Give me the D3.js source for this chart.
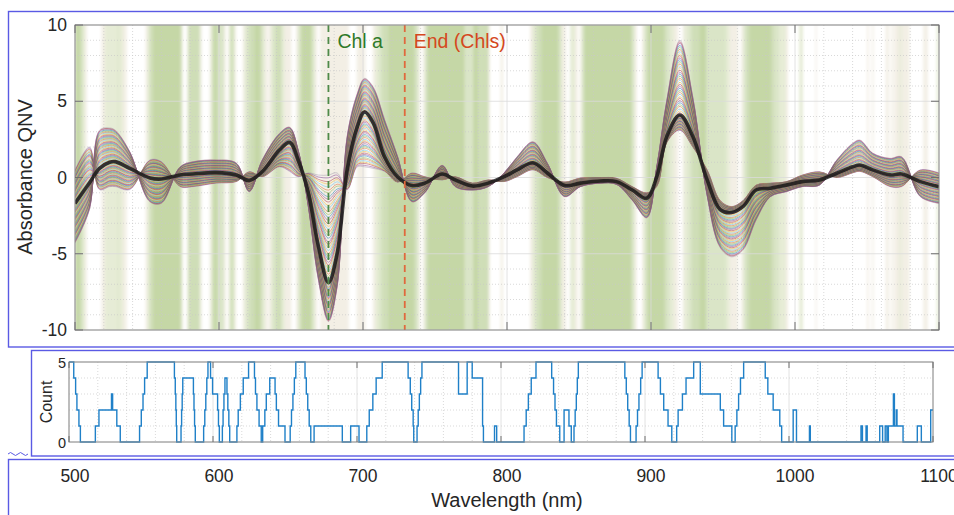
<!DOCTYPE html>
<html>
<head>
<meta charset="utf-8">
<script src="https://cdn.jsdelivr.net/npm/d3@7"></script>
<style>
  body { margin: 0; background: #fff; }
  svg { display: block; font-family: "Liberation Sans", Arial, Helvetica, sans-serif; }
</style>
</head>
<body>
<svg id="chart" width="954" height="515"></svg>
<script>
// ---- spectra (QNV-normalised absorbance) ----
const wavelengths   = [500, 510, 517, 524, 528, 538, 552, 560, 573, 582, 598, 612, 621, 630, 642, 649, 655, 662, 669, 676, 682, 689, 696, 701, 707, 715, 724, 734, 743, 755, 764, 776, 787, 798, 807, 818, 828, 840, 851, 865, 876, 887, 897, 904, 911, 920, 929, 939, 948, 956, 964, 973, 983, 994, 1005, 1017, 1029, 1040, 1045, 1054, 1066, 1074, 1087, 1100];
const meanSpectrum  = [-1.7, -0.36, 0.6, 1.0, 1.04, 0.6, -0.03, -0.1, 0.17, 0.23, 0.32, 0.16, -0.2, 0.38, 1.8, 2.3, 1.15, -1.0, -4.5, -6.9, -5.0, 0.5, 3.3, 4.3, 3.6, 1.36, 0.05, -0.53, -0.37, 0.23, -0.16, -0.56, -0.37, 0.05, 0.5, 0.97, 0.3, -0.53, -0.37, -0.23, -0.27, -0.82, -1.36, 0.05, 2.7, 4.1, 2.7, -0.16, -2.1, -2.3, -1.9, -0.82, -0.7, -0.5, -0.27, -0.16, 0.28, 0.7, 0.82, 0.5, 0.17, 0.23, -0.27, -0.6];
const upperEnvelope = [0.5, 2.0, 3.1, 3.25, 3.1, 1.7, 1.15, 1.04, 0.7, 1.04, 1.15, 0.95, 0.38, 1.15, 2.9, 3.3, 1.8, 0.3, 0.16, 0.16, 0.3, 2.7, 5.5, 6.5, 5.95, 3.8, 1.4, 0.3, 0.05, 0.8, 0.05, -0.37, -0.16, 0.3, 1.36, 2.35, 0.95, -0.3, -0.03, 0.0, -0.05, -0.6, -1.0, 0.7, 5.1, 9.0, 5.3, 0.5, -1.5, -1.9, -1.5, -0.5, -0.37, -0.27, 0.16, 0.38, 1.15, 2.24, 2.46, 1.6, 1.26, 1.36, 0.5, 0.3];
const lowerEnvelope = [-4.3, -2.1, -0.8, -0.6, -0.6, -0.8, -1.6, -1.7, -0.6, -0.6, -0.37, -0.27, -0.93, 0.05, 0.7, 0.4, 0.05, -1.9, -6.7, -9.45, -7.2, -0.8, 0.7, 0.7, 0.6, 0.4, -0.3, -1.6, -1.0, -0.16, -0.6, -0.82, -0.6, -0.27, 0.05, 0.5, 0.0, -1.26, -0.6, -0.37, -0.45, -1.5, -2.65, -0.6, 2.3, 3.1, 2.0, -1.2, -4.6, -5.2, -4.75, -2.8, -1.26, -0.93, -0.6, -0.5, 0.0, 0.3, 0.4, 0.05, -0.6, -0.6, -1.26, -1.7];
// where each sample sits between its weak (0) and strong (1) response
const sampleMix = [0, 0.013, 0.03, 0.041, 0.055, 0.07, 0.082, 0.1, 0.112, 0.125, 0.14, 0.152, 0.17, 0.183, 0.195, 0.21, 0.226, 0.238, 0.25, 0.266, 0.28, 0.293, 0.31, 0.322, 0.336, 0.35, 0.364, 0.378, 0.39, 0.405, 0.418, 0.432, 0.445, 0.46, 0.472, 0.486, 0.5, 0.514, 0.527, 0.54, 0.556, 0.568, 0.582, 0.595, 0.61, 0.622, 0.637, 0.65, 0.664, 0.678, 0.69, 0.705, 0.718, 0.732, 0.746, 0.76, 0.773, 0.787, 0.8, 0.815, 0.828, 0.842, 0.856, 0.87, 0.883, 0.897, 0.91, 0.925, 0.938, 0.952, 0.966, 0.98, 0.99, 1];

// ---- how many of the five selections keep each wavelength (step function) ----
const countStart = [500, 503.3, 504.6, 505.5, 506.9, 507.9, 518.3, 520.8, 529.5, 530.3, 533.2, 535.6, 549, 550.2, 551.4, 552.5, 554.3, 573.2, 573.8, 574.2, 574.5, 574.8, 577.8, 578.2, 578.6, 579, 586.4, 586.8, 587.2, 587.7, 593.5, 594.3, 595, 595.7, 596.5, 598.3, 599.7, 603.2, 603.8, 604.4, 606.5, 607, 607.6, 608.3, 609.7, 610.3, 611, 611.6, 616.6, 617.5, 619, 621, 624.7, 628.8, 629.5, 630.5, 632, 633.5, 634.5, 636, 637, 639.4, 643.1, 644, 645.5, 650, 653.6, 654.5, 655.5, 656.5, 657.5, 663.9, 664.8, 665.8, 666.8, 667.9, 670.2, 689.8, 695.6, 701.4, 706.8, 708.5, 711, 713.3, 717.5, 735.5, 737, 738, 739, 739.4, 741.7, 742.5, 743.3, 744.2, 745.1, 770.5, 776.5, 780, 787.2, 787.8, 795.5, 797, 816, 817.5, 819, 821, 824.3, 835.2, 836.5, 837.5, 838.5, 840.8, 843.8, 847.2, 848.8, 850.7, 851.5, 852.3, 853, 853.7, 886, 887, 888, 889, 889.9, 893.8, 894.8, 895.8, 897, 898, 909.1, 910.7, 913, 916, 918.6, 922, 923, 926, 928.5, 933.8, 938.4, 952.3, 954.6, 960.3, 962.6, 963.8, 965, 966.3, 968.5, 983.5, 985.3, 989, 993.6, 994.9, 1002.9, 1005.2, 1014.2, 1014.8, 1050, 1051, 1053.5, 1054.3, 1063, 1065, 1066.8, 1068, 1069, 1072.5, 1073.2, 1074.5, 1075, 1079.2, 1089.1, 1091.9, 1098.4];
const countValue = [5, 4, 3, 2, 1, 0, 1, 2, 3, 2, 1, 0, 1, 2, 3, 4, 5, 4, 3, 2, 1, 0, 1, 2, 3, 4, 3, 2, 1, 0, 1, 2, 3, 4, 5, 4, 3, 2, 1, 0, 1, 2, 3, 4, 3, 2, 1, 0, 1, 2, 3, 4, 5, 4, 3, 2, 1, 0, 1, 2, 3, 4, 3, 2, 1, 0, 1, 2, 3, 4, 5, 4, 3, 2, 1, 0, 1, 0, 1, 0, 1, 2, 3, 4, 5, 4, 3, 2, 1, 0, 1, 2, 3, 4, 5, 3, 5, 4, 1, 0, 1, 0, 1, 2, 3, 4, 5, 4, 3, 2, 1, 0, 2, 1, 0, 1, 2, 3, 4, 5, 4, 3, 2, 1, 0, 1, 2, 3, 4, 5, 4, 3, 2, 1, 0, 1, 2, 3, 4, 5, 3, 2, 1, 0, 1, 2, 3, 4, 5, 4, 3, 2, 1, 0, 2, 0, 1, 0, 1, 0, 1, 0, 1, 0, 1, 0, 1, 3, 1, 2, 1, 0, 1, 0, 2];

// ---- axes and annotations ----
const xTicks = [500, 600, 700, 800, 900, 1000, 1100];
const yTicks = [-10, -5, 0, 5, 10];
const countTicks = [0, 5];
const markerWavelengths = [676, 729];
const markerLabels = ["Chl a", "End (Chls)"];
const markerLineColors = ["#4f8a48", "#e0693d"];
const markerTextColors = ["#2f7a2a", "#d5481d"];

const lineColors = ["#0072BD", "#D95319", "#EDB120", "#7E2F8E", "#77AC30", "#4DBEEE", "#A2142F"];
const shadeColors = [null, "#f3efe5", "#e6ecd6", "#dae5c7", "#cfdeb7", "#c5d7a6"];
const frameBlue = "#5a5ae4";

const svg = d3.select("#chart");

// ---- scales ----
const x = d3.scaleLinear().domain([500, 1100]).range([75, 939]);
const y = d3.scaleLinear().domain([-10, 10]).range([330, 25]);
const xc = d3.scaleLinear().domain([500, 1100]).range([69, 933]);
const yc = d3.scaleLinear().domain([0, 5]).range([442, 362]);

// ---- panel frames ----
const frames = svg.append("g").attr("fill", "none").attr("stroke", frameBlue).attr("stroke-width", 1.4);
frames.append("rect").attr("x", 8.5).attr("y", 11.5).attr("width", 980).attr("height", 335.5);
frames.append("rect").attr("x", 31.5).attr("y", 350.5).attr("width", 960).attr("height", 105.5);
frames.append("rect").attr("x", 8.5).attr("y", 459.5).attr("width", 980).attr("height", 80);
frames.append("path").attr("stroke-width", 1)
  .attr("d", "M8,454 q2.5,-3 5,0 t5,0 t5,0 t5,0");

const defs = svg.append("defs");
defs.append("clipPath").attr("id", "plotClip").append("rect")
  .attr("x", 75).attr("y", 25).attr("width", 864).attr("height", 305);
const blur = defs.append("filter").attr("id", "soft")
  .attr("x", "-2%").attr("y", "-2%").attr("width", "104%").attr("height", "104%");
blur.append("feGaussianBlur").attr("stdDeviation", "1.6 0");

// ---- spectra panel ----
const specPanel = svg.append("g");
const segs = countStart.map((s, i) => ({
  a: s, b: i + 1 < countStart.length ? countStart[i + 1] : 1100, c: countValue[i]
}));

specPanel.append("g").attr("clip-path", "url(#plotClip)")
  .append("g").attr("filter", "url(#soft)")
  .selectAll("rect").data(segs.filter(d => d.c > 0)).join("rect")
  .attr("x", d => x(d.a)).attr("width", d => x(d.b) - x(d.a) + 0.4)
  .attr("y", 25).attr("height", 305)
  .attr("fill", d => shadeColors[d.c]);

function drawGrid(g, xs, ys, xMin, xMaj, yMin, yMaj, x0, x1, y0, y1) {
  g.append("g").selectAll("line").data(xMin).join("line")
    .attr("x1", d => xs(d)).attr("x2", d => xs(d)).attr("y1", y0).attr("y2", y1)
    .attr("stroke", "#c9c9c9").attr("stroke-width", 0.7).attr("stroke-dasharray", "1,2");
  g.append("g").selectAll("line").data(yMin).join("line")
    .attr("y1", d => ys(d)).attr("y2", d => ys(d)).attr("x1", x0).attr("x2", x1)
    .attr("stroke", "#c9c9c9").attr("stroke-width", 0.7).attr("stroke-dasharray", "1,2");
  g.append("g").selectAll("line").data(xMaj).join("line")
    .attr("x1", d => xs(d)).attr("x2", d => xs(d)).attr("y1", y0).attr("y2", y1)
    .attr("stroke", "#dadada").attr("stroke-width", 0.8);
  g.append("g").selectAll("line").data(yMaj).join("line")
    .attr("y1", d => ys(d)).attr("y2", d => ys(d)).attr("x1", x0).attr("x2", x1)
    .attr("stroke", "#dadada").attr("stroke-width", 0.8);
}

const minorX = d3.range(520, 1100, 20).filter(v => v % 100 !== 0);
drawGrid(specPanel, x, y, minorX, xTicks, d3.range(-9, 10).filter(v => v % 5 !== 0), yTicks, 75, 939, 25, 330);

// individual spectra: each sample bends from its weak response through the mean to its strong one
const strong = wavelengths.map((_, j) => Math.abs(upperEnvelope[j]) >= Math.abs(lowerEnvelope[j]) ? upperEnvelope[j] : lowerEnvelope[j]);
const weak = wavelengths.map((_, j) => strong[j] === upperEnvelope[j] ? lowerEnvelope[j] : upperEnvelope[j]);
const sampleValue = (s, j) => s < 0.5
  ? weak[j] + (meanSpectrum[j] - weak[j]) * (s / 0.5)
  : meanSpectrum[j] + (strong[j] - meanSpectrum[j]) * ((s - 0.5) / 0.5);

const line = d3.line().x(d => x(d[0])).y(d => y(d[1])).curve(d3.curveCatmullRom.alpha(0.5));
const spectra = specPanel.append("g").attr("clip-path", "url(#plotClip)");
spectra.selectAll("path").data(sampleMix).join("path")
  .attr("d", s => line(wavelengths.map((w, j) => [w, sampleValue(s, j)])))
  .attr("fill", "none")
  .attr("stroke", (s, i) => (i === 0 || i === sampleMix.length - 1) ? "#9a8fa6" : lineColors[(i * 3) % lineColors.length])
  .attr("stroke-width", 0.8)
  .attr("stroke-opacity", 0.55);

spectra.append("path")
  .attr("d", line(wavelengths.map((w, j) => [w, meanSpectrum[j]])))
  .attr("fill", "none").attr("stroke", "#151515").attr("stroke-width", 3.6)
  .attr("stroke-opacity", 0.82).attr("stroke-linejoin", "round");

// reference wavelengths
markerWavelengths.forEach((w, i) => {
  specPanel.append("line").attr("x1", x(w)).attr("x2", x(w)).attr("y1", 25).attr("y2", 330)
    .attr("stroke", markerLineColors[i]).attr("stroke-width", 1.8).attr("stroke-dasharray", "7,5");
  specPanel.append("text").attr("x", x(w) + 9).attr("y", 48).attr("font-size", 19.5)
    .attr("fill", markerTextColors[i]).text(markerLabels[i]);
});

// axis box with inward ticks
function drawBox(g, xs, ys, xt, yt, x0, x1, y0, y1, tl) {
  g.append("rect").attr("x", x0).attr("y", y0).attr("width", x1 - x0).attr("height", y1 - y0)
    .attr("fill", "none").attr("stroke", "#8a8a8a").attr("stroke-width", 1);
  const t = g.append("g").attr("stroke", "#6e6e6e").attr("stroke-width", 1);
  xt.forEach(v => {
    t.append("line").attr("x1", xs(v)).attr("x2", xs(v)).attr("y1", y1).attr("y2", y1 - tl);
    t.append("line").attr("x1", xs(v)).attr("x2", xs(v)).attr("y1", y0).attr("y2", y0 + tl);
  });
  yt.forEach(v => {
    t.append("line").attr("x1", x0).attr("x2", x0 + tl).attr("y1", ys(v)).attr("y2", ys(v));
    t.append("line").attr("x1", x1).attr("x2", x1 - tl).attr("y1", ys(v)).attr("y2", ys(v));
  });
}
drawBox(specPanel, x, y, xTicks, yTicks, 75, 939, 25, 330, 8);

specPanel.append("g").selectAll("text").data(yTicks).join("text")
  .attr("x", 67).attr("y", d => y(d) + 6.2).attr("text-anchor", "end")
  .attr("font-size", 17.5).attr("fill", "#262626").text(d => d);

specPanel.append("text").attr("transform", "translate(32,177) rotate(-90)")
  .attr("text-anchor", "middle").attr("font-size", 20).attr("fill", "#262626")
  .text("Absorbance QNV");

// ---- count panel ----
const countPanel = svg.append("g");
drawGrid(countPanel, xc, yc, minorX, xTicks, [1, 2, 3, 4], countTicks, 69, 933, 362, 442);

const step = d3.line().x(d => xc(d[0])).y(d => yc(d[1])).curve(d3.curveStepAfter);
const stepPts = countStart.map((s, i) => [s, countValue[i]]);
stepPts.push([1100, countValue[countValue.length - 1]]);
countPanel.append("path").attr("d", step(stepPts)).attr("fill", "none")
  .attr("stroke", "#1f80c8").attr("stroke-width", 1.4);

drawBox(countPanel, xc, yc, xTicks, [], 69, 933, 362, 442, 6);
countPanel.append("g").selectAll("text").data(countTicks).join("text")
  .attr("x", 66).attr("y", d => yc(d) + 5.5).attr("text-anchor", "end")
  .attr("font-size", 14.5).attr("fill", "#262626").text(d => d);
countPanel.append("text").attr("transform", "translate(52,402) rotate(-90)")
  .attr("text-anchor", "middle").attr("font-size", 16).attr("fill", "#262626").text("Count");

// ---- shared wavelength axis labels ----
svg.append("g").selectAll("text").data(xTicks).join("text")
  .attr("x", d => x(d)).attr("y", 482).attr("text-anchor", "middle")
  .attr("font-size", 17.5).attr("fill", "#262626").text(d => d);
svg.append("text").attr("x", 507).attr("y", 507).attr("text-anchor", "middle")
  .attr("font-size", 20).attr("fill", "#262626").text("Wavelength (nm)");
</script>
</body>
</html>
